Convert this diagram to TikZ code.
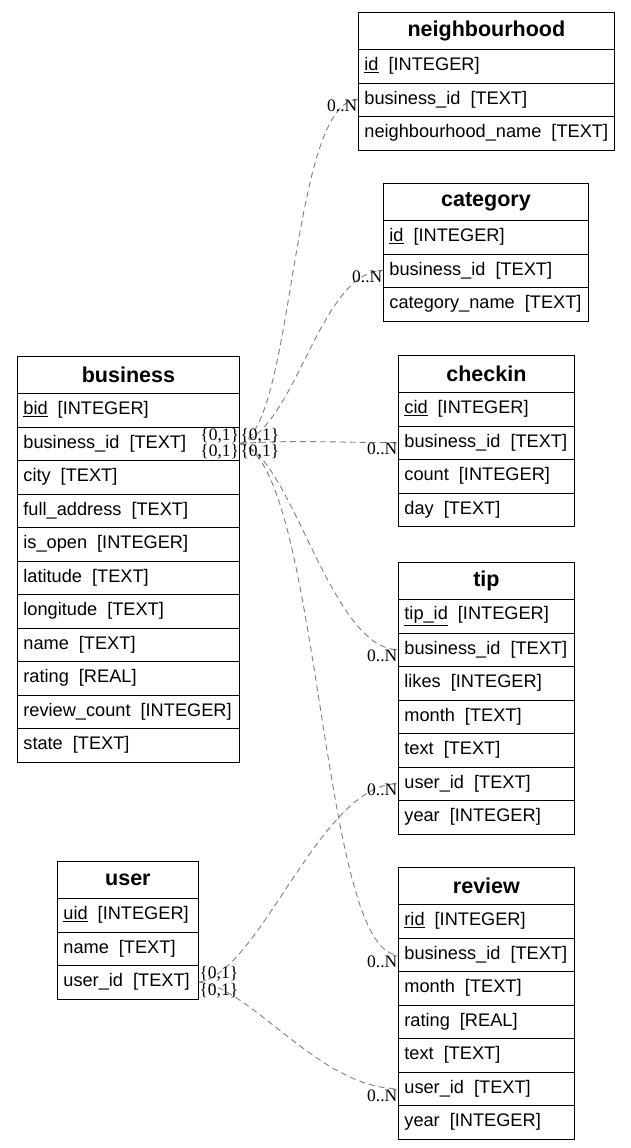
\documentclass[tikz,border=0pt]{standalone}
\usepackage{fontspec}
\setmainfont{Liberation Sans}
\newfontfamily\labfont{Liberation Serif}
\newcommand{\gapsp}{\hspace{0.55em}}
\tikzset{
  hdr/.style={draw, thick, anchor=north west, minimum height=37pt, inner sep=0pt,
    font=\fontsize{21.5}{24}\selectfont\bfseries},
  rowbox/.style={draw, thick, anchor=north west, minimum height=33.5pt, inner xsep=6pt, inner ysep=0pt,
    text width=#1, align=left, font=\fontsize{18.2}{20}\selectfont},
  conn/.style={draw=gray, dash pattern=on 6pt off 4pt, line width=0.9pt},
  lab/.style={font=\labfont\fontsize{17.5}{18}\selectfont, inner sep=0.5pt},
}
\newcommand{\ertable}[6]{%
  \node[hdr, minimum width=#4pt+12pt] (#1-0) at (#2,#3) {#5};
  \foreach \r [count=\i] in {#6} {
    \node[rowbox=#4pt] (#1-\i) at (#2,{#3+37+(\i-1)*33.5}) {\r};
  }
}
\begin{document}
\begin{tikzpicture}[x=1pt,y=-1pt]
\useasboundingbox (0,0) rectangle (631,1148);
\ertable{nb}{358}{12}{244}{neighbourhood}{{\underline{id}\gapsp[INTEGER]},{business\_id\gapsp[TEXT]},{neighbourhood\_name\gapsp[TEXT]}}
\ertable{cat}{383}{183}{193}{category}{{\underline{id}\gapsp[INTEGER]},{business\_id\gapsp[TEXT]},{category\_name\gapsp[TEXT]}}
\ertable{chk}{398}{355}{164}{checkin}{{\underline{cid}\gapsp[INTEGER]},{business\_id\gapsp[TEXT]},{count\gapsp[INTEGER]},{day\gapsp[TEXT]}}
\ertable{tip}{398}{562}{164}{tip}{{\underline{tip\_id}\gapsp[INTEGER]},{business\_id\gapsp[TEXT]},{likes\gapsp[INTEGER]},{month\gapsp[TEXT]},{text\gapsp[TEXT]},{user\_id\gapsp[TEXT]},{year\gapsp[INTEGER]}}
\ertable{rev}{398}{867}{164}{review}{{\underline{rid}\gapsp[INTEGER]},{business\_id\gapsp[TEXT]},{month\gapsp[TEXT]},{rating\gapsp[REAL]},{text\gapsp[TEXT]},{user\_id\gapsp[TEXT]},{year\gapsp[INTEGER]}}
\ertable{bus}{17}{356}{210}{business}{{\underline{bid}\gapsp[INTEGER]},{business\_id\gapsp[TEXT]},{city\gapsp[TEXT]},{full\_address\gapsp[TEXT]},{is\_open\gapsp[INTEGER]},{latitude\gapsp[TEXT]},{longitude\gapsp[TEXT]},{name\gapsp[TEXT]},{rating\gapsp[REAL]},{review\_count\gapsp[INTEGER]},{state\gapsp[TEXT]}}
\ertable{usr}{57}{861}{129}{user}{{\underline{uid}\gapsp[INTEGER]},{name\gapsp[TEXT]},{user\_id\gapsp[TEXT]}}

% connectors
\draw[conn] (bus-2.east) .. controls +(55,-15) and +(-68,0) .. (nb-2.west);
\draw[conn] (bus-2.east) .. controls +(56,-15) and +(-63,0) .. (cat-2.west);
\draw[conn] (bus-2.east) .. controls +(50,-4) and +(-60,0) .. (chk-2.west);
\draw[conn] (bus-2.east) .. controls +(51,9) and +(-68,0) .. (tip-2.west);
\draw[conn] (bus-2.east) .. controls +(81,19) and +(-78,0) .. (rev-2.west);
\draw[conn] (usr-3.east) .. controls +(62,-10) and +(-78,0) .. (tip-6.west);
\draw[conn] (usr-3.east) .. controls +(52,5) and +(-78,0) .. (rev-6.west);

% labels
\node[lab, anchor=north east] (l1) at (nb-2.west) {0..N};
\node[lab, anchor=north east] (l2) at (cat-2.west) {0..N};
\node[lab, anchor=north east] (l3) at (chk-2.west) {0..N};
\node[lab, anchor=north east] (l4) at (tip-2.west) {0..N};
\node[lab, anchor=north east] (l5) at (rev-2.west) {0..N};
\node[lab, anchor=north east] (l6) at (tip-6.west) {0..N};
\node[lab, anchor=north east] (l7) at (rev-6.west) {0..N};
\node[lab, anchor=south east] (b1) at (bus-2.east) {\{0,1\}};
\node[lab, anchor=north east] (b2) at (bus-2.east) {\{0,1\}};
\node[lab, anchor=south west] (b3) at (bus-2.east) {\{0,1\}};
\node[lab, anchor=north west] (b4) at (bus-2.east) {\{0,1\}};
\node[lab, anchor=south west] (u1) at (usr-3.east) {\{0,1\}};
\node[lab, anchor=north west] (u2) at (usr-3.east) {\{0,1\}};
\end{tikzpicture}
\end{document}
